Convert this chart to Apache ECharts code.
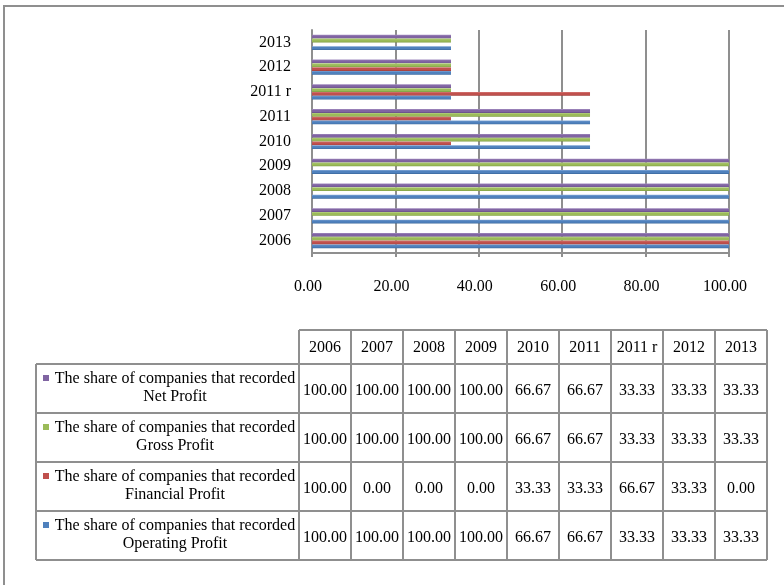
<!DOCTYPE html>
<html>
<head>
<meta charset="utf-8">
<script src="https://cdn.jsdelivr.net/npm/echarts@6/dist/echarts.min.js"></script>
<style>
  html, body { margin: 0; padding: 0; background: #fff; }
  #chart { width: 784px; height: 585px; }
</style>
</head>
<body>
<div id="chart"></div>
<script>
// Categories (years) shown on the bar axis and as table columns
const years = ['2006', '2007', '2008', '2009', '2010', '2011', '2011 r', '2012', '2013'];

// Share of companies (%) that recorded each kind of profit
const operatingProfit = [100, 100, 100, 100, 66.67, 66.67, 33.33, 33.33, 33.33];
const financialProfit = [100, 0, 0, 0, 33.33, 33.33, 66.67, 33.33, 0];
const grossProfit     = [100, 100, 100, 100, 66.67, 66.67, 33.33, 33.33, 33.33];
const netProfit       = [100, 100, 100, 100, 66.67, 66.67, 33.33, 33.33, 33.33];

const seriesNames = [
  'The share of companies that recorded\nOperating Profit',
  'The share of companies that recorded\nFinancial Profit',
  'The share of companies that recorded\nGross Profit',
  'The share of companies that recorded\nNet Profit'
];
const seriesValues = [operatingProfit, financialProfit, grossProfit, netProfit];

// Value axis ticks
const valueTicks = [0, 20, 40, 60, 80, 100];

const palette = [
  { base: '#4f81bd', light: '#7ea5d6', dark: '#3a679c' },
  { base: '#c0504d', light: '#d87c79', dark: '#9b3b38' },
  { base: '#9bbb59', light: '#bad586', dark: '#7b9a3e' },
  { base: '#8064a2', light: '#a28bc0', dark: '#634a82' }
];

const FONT = '"Liberation Serif", "Times New Roman", serif';
const LINE = '#8f8f8f';

function barFill(c) {
  return new echarts.graphic.LinearGradient(0, 0, 0, 1, [
    { offset: 0, color: c.light },
    { offset: 0.35, color: c.base },
    { offset: 0.7, color: c.base },
    { offset: 1, color: c.dark }
  ]);
}

// ---- Data table below the plot, built from the same arrays ----
const tableLeft = 36;
const legendColRight = 299;
const colWidth = 52;
const headerTop = 330;
const headerBottom = 364;
const rowHeight = 49;
const tableRight = legendColRight + colWidth * years.length;
const tableBottom = headerBottom + rowHeight * seriesValues.length;

const tableEls = [];
const lineStyle = { stroke: LINE, lineWidth: 2 };

function hLine(x1, x2, y) {
  tableEls.push({ type: 'line', shape: { x1, y1: y, x2, y2: y }, style: lineStyle, z: 10 });
}
function vLine(x, y1, y2) {
  tableEls.push({ type: 'line', shape: { x1: x, y1, x2: x, y2 }, style: lineStyle, z: 10 });
}

// header borders
hLine(legendColRight, tableRight, headerTop);
for (let i = 0; i <= years.length; i++) {
  vLine(legendColRight + i * colWidth, headerTop, tableBottom);
}
vLine(tableLeft, headerBottom, tableBottom);
for (let r = 0; r <= seriesValues.length; r++) {
  hLine(tableLeft, tableRight, headerBottom + r * rowHeight);
}

// header labels
years.forEach((y, i) => {
  tableEls.push({
    type: 'text', z: 11,
    style: {
      text: y, x: legendColRight + i * colWidth + colWidth / 2, y: (headerTop + headerBottom) / 2 + 1,
      align: 'center', verticalAlign: 'middle', font: '16px ' + FONT, fill: '#000'
    }
  });
});

// rows: top row is the last series
for (let r = 0; r < seriesValues.length; r++) {
  const s = seriesValues.length - 1 - r;
  const rowTop = headerBottom + r * rowHeight;
  const mid = rowTop + rowHeight / 2;
  const lines = seriesNames[s].split('\n');
  tableEls.push({
    type: 'rect', z: 11,
    shape: { x: 43, y: mid - 13.5, width: 6, height: 6 },
    style: { fill: palette[s].base }
  });
  tableEls.push({
    type: 'text', z: 11,
    style: {
      text: lines[0], x: 175, y: mid - 10,
      align: 'center', verticalAlign: 'middle', font: '16px ' + FONT, fill: '#000'
    }
  });
  tableEls.push({
    type: 'text', z: 11,
    style: {
      text: lines[1], x: 175, y: mid + 8,
      align: 'center', verticalAlign: 'middle', font: '16px ' + FONT, fill: '#000'
    }
  });
  seriesValues[s].forEach((v, i) => {
    tableEls.push({
      type: 'text', z: 11,
      style: {
        text: v.toFixed(2), x: legendColRight + i * colWidth + colWidth / 2, y: mid + 2,
        align: 'center', verticalAlign: 'middle', font: '16px ' + FONT, fill: '#000'
      }
    });
  });
}

// outer frame of the chart area
tableEls.push({
  type: 'rect', z: 1,
  shape: { x: 4, y: 6, width: 900, height: 700 },
  style: { fill: null, stroke: LINE, lineWidth: 2 }
});

const chart = echarts.init(document.getElementById('chart'), null, { renderer: 'canvas' });

// Bars within a category are stacked from the top: Net, Gross, Financial, Operating
const barOrder = [3, 2, 1, 0];

chart.setOption({
  animation: false,
  backgroundColor: '#fff',
  grid: { left: 312, right: 55, top: 30, bottom: 332, containLabel: false },
  xAxis: {
    type: 'value',
    min: valueTicks[0],
    max: valueTicks[valueTicks.length - 1],
    interval: valueTicks[1] - valueTicks[0],
    axisLine: { show: true, lineStyle: { color: LINE, width: 2 } },
    axisTick: { show: true, length: 4, lineStyle: { color: LINE, width: 2 } },
    splitLine: { show: true, lineStyle: { color: LINE, width: 2 } },
    axisLabel: {
      margin: 26,
      color: '#000',
      fontFamily: FONT,
      fontSize: 16,
      padding: [0, 8, 0, 0],
      formatter: v => v.toFixed(2)
    }
  },
  yAxis: {
    type: 'category',
    data: years,
    axisLine: { show: true, lineStyle: { color: LINE, width: 2 } },
    axisTick: { show: false },
    axisLabel: { margin: 21, color: '#000', fontFamily: FONT, fontSize: 16 }
  },
  series: barOrder.map(i => ({
    type: 'bar',
    name: seriesNames[i],
    data: seriesValues[i],
    barWidth: 3.8,
    barGap: '0%',
    itemStyle: { color: barFill(palette[i]) }
  })),
  graphic: { elements: tableEls }
});
</script>
</body>
</html>
